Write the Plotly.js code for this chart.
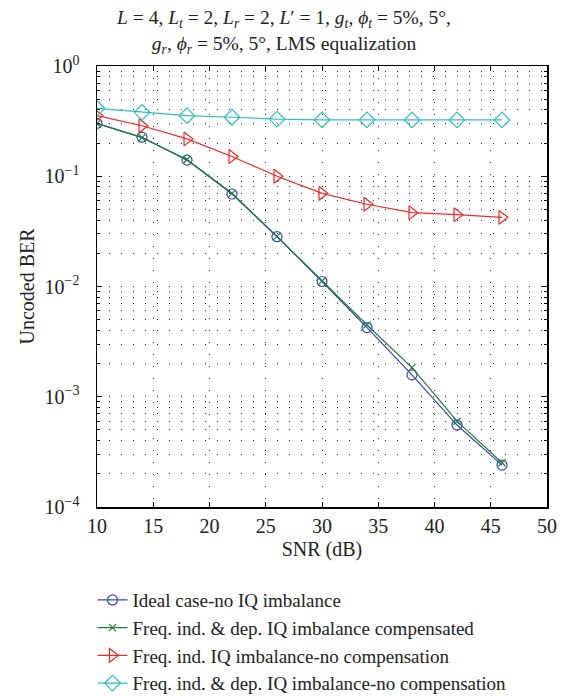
<!DOCTYPE html>
<html>
<head>
<meta charset="utf-8">
<script src="https://cdn.plot.ly/plotly-3.0.1.min.js"></script>
<style>html,body{margin:0;padding:0;background:#fff;}</style>
</head>
<body>
<div id="chart" style="width:568px;height:696px;"></div>
<script>
const snr = [10, 14, 18, 22, 26, 30, 34, 38, 42, 46];
const idealBER = [0.302, 0.226, 0.140, 0.069, 0.0283, 0.0111, 0.00424, 0.00158, 0.000554, 0.00024];
const compensatedBER = [0.300, 0.224, 0.142, 0.070, 0.0285, 0.0112, 0.00448, 0.00184, 0.00060, 0.000252];
const freqIndNoCompBER = [0.355, 0.287, 0.218, 0.151, 0.100, 0.070, 0.0557, 0.0467, 0.0448, 0.0424];
const freqIndDepNoCompBER = [0.413, 0.380, 0.354, 0.343, 0.330, 0.325, 0.325, 0.324, 0.324, 0.324];
const seriesNames = [
  "Ideal case-no IQ imbalance",
  "Freq. ind. &amp; dep. IQ imbalance compensated",
  "Freq. ind. IQ imbalance-no compensation",
  "Freq. ind. &amp; dep. IQ imbalance-no compensation"
];
const xTicks = [10, 15, 20, 25, 30, 35, 40, 45, 50];
const yTickVals = [1e-4, 1e-3, 1e-2, 1e-1, 1];
const yTickText = ["10<sup>\u22124</sup>", "10<sup>\u22123</sup>", "10<sup>\u22122</sup>", "10<sup>\u22121</sup>", "10<sup>0</sup>"];

const minorY = [];
for (let e = -4; e < 0; e++) {
  for (let m = 2; m <= 9; m++) minorY.push(m * Math.pow(10, e));
}

const serif = "Liberation Serif, DejaVu Serif, serif";
const txt = "#222";
const colors = ["#3448ae", "#1c7f3c", "#f02828", "#2cbfbf"];
const ys = [idealBER, compensatedBER, freqIndNoCompBER, freqIndDepNoCompBER];
const symbols = ["circle-open", "x-thin-open", "triangle-right-open", "diamond-open"];
const sizes = [10, 7, 12, 12];

const traces = ys.map((y, i) => ({
  x: snr, y: y, name: seriesNames[i], type: "scatter", mode: "lines+markers",
  line: {color: colors[i], width: 1.2},
  marker: {symbol: symbols[i], size: sizes[i], color: colors[i], line: {color: colors[i], width: 1.2}}
}));

const gridDash = "1px,11px";

const layout = {
  width: 568, height: 696,
  margin: {l: 97, r: 21, t: 66, b: 189, autoexpand: false},
  paper_bgcolor: "#fff", plot_bgcolor: "#fff",
  font: {family: serif, size: 20, color: txt},
  title: {
    text: "<i>L</i> = 4, <i>L</i><sub><i>t</i></sub> = 2, <i>L</i><sub><i>r</i></sub> = 2, <i>L</i>\u2032 = 1, <i>g</i><sub><i>t</i></sub>, <i>\u03d5</i><sub><i>t</i></sub> = 5%, 5\u00b0,<br><i>g</i><sub><i>r</i></sub>, <i>\u03d5</i><sub><i>r</i></sub> = 5%, 5\u00b0, LMS equalization",
    x: 0.5, xanchor: "center", y: 0.965, yanchor: "top",
    font: {family: serif, size: 19.5, color: txt}
  },
  xaxis: {
    range: [10, 50], tickmode: "array", tickvals: xTicks,
    ticks: "inside", ticklen: 5, tickcolor: "#000", mirror: "ticks",
    showline: true, linecolor: "#000", linewidth: 1.5,
    showgrid: true, gridcolor: "#333", griddash: gridDash, gridwidth: 1,
    zeroline: false, ticklabelstandoff: 0, automargin: false,
    tickfont: {family: serif, size: 20, color: txt},
    title: {text: "SNR (dB)", font: {family: serif, size: 20, color: txt}, standoff: 6}
  },
  yaxis: {
    type: "log", range: [-4, 0], tickmode: "array", tickvals: yTickVals, ticktext: yTickText,
    ticks: "inside", ticklen: 5, tickcolor: "#000", mirror: "ticks",
    showline: true, linecolor: "#000", linewidth: 1.5,
    showgrid: true, gridcolor: "#333", griddash: gridDash, gridwidth: 1,
    zeroline: false, ticklabelstandoff: 12, automargin: false,
    tickfont: {family: serif, size: 20, color: txt},
    minor: {tickmode: "array", tickvals: minorY, ticks: "inside", ticklen: 3, tickcolor: "#000",
            showgrid: true, gridcolor: "#333", griddash: gridDash, gridwidth: 1},
    title: {text: "Uncoded BER", font: {family: serif, size: 20, color: txt}, standoff: 4}
  },
  showlegend: true,
  legend: {
    x: -0.01, xanchor: "left", y: -0.168, yanchor: "top",
    orientation: "v", bgcolor: "rgba(0,0,0,0)",
    font: {family: serif, size: 19, color: txt},
    tracegroupgap: 0, itemwidth: 30
  }
};

Plotly.newPlot("chart", traces, layout, {staticPlot: true, displayModeBar: false});
</script>
</body>
</html>
